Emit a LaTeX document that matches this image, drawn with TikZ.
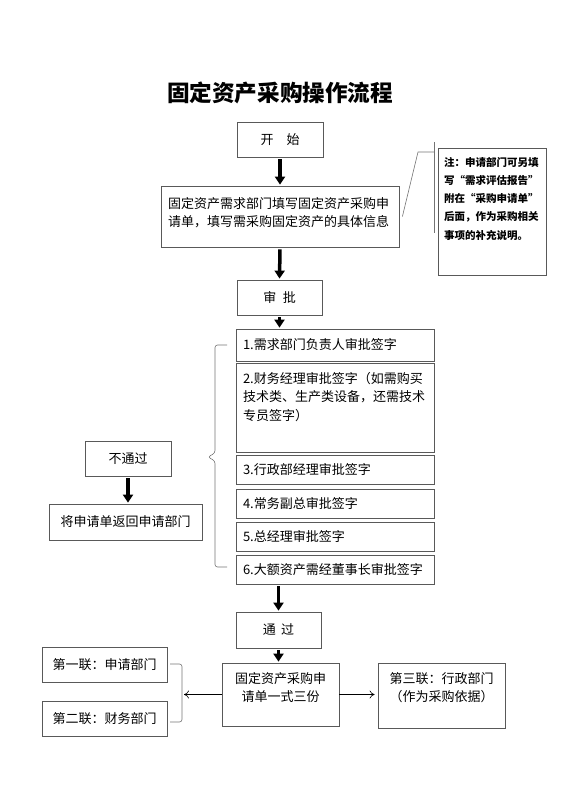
\documentclass[tikz,border=0pt]{standalone}
\usepackage{fontspec}
\setmainfont{Noto Sans CJK SC}
\usetikzlibrary{arrows.meta}

\begin{document}
\begin{tikzpicture}
[x=1pt,y=-1pt,
box/.style={rectangle,draw=black!65,line width=0.8pt,inner sep=0pt,font=\fontsize{13}{18}\selectfont},
stepbox/.style={box,minimum width=198pt,text width=184pt,align=left},
notebox/.style={box,minimum width=108pt,minimum height=127pt,text width=96pt,align=left,
  font=\fontsize{10.5}{18.3}\selectfont\bfseries},
bigarrow/.style={-{Triangle[width=10pt,length=8pt]},line width=3.5pt,shorten <=2pt,shorten >=1pt},
smallarrow/.style={-{To[length=5pt,width=8pt]},line width=0.6pt},
bracket/.style={draw=black!55,line width=0.6pt,rounded corners=2.5pt}]
\useasboundingbox (0,0) rectangle (560,792);

\node at (280,93) (title) {\fontsize{22.6}{28}\selectfont\bfseries 固定资产采购操作流程};

\node at (280,139.5) [box,minimum width=86pt,minimum height=35pt] (start) {开\hspace{1em}始};
\node at (280,216.5) [box,minimum width=238pt,minimum height=61pt,text width=224pt,align=left,text depth=28pt] (fill)
  {固定资产需求部门填写固定资产采购申\\请单，填写需采购固定资产的具体信息};
\node at (492,211.5) [notebox,text depth=100pt] (note)
  {注：申请部门可另填\\写“需求评估报告”\\附在“采购申请单”\\后面，作为采购相关\\事项的补充说明。};
\coordinate (ntop) at (434,142);
\coordinate (nbot) at (434,233);
\coordinate (nknee) at (418,152);
\draw [bracket,rounded corners=0pt] (ntop) to (nbot);
\draw [bracket,rounded corners=0pt] ([xshift=3pt]fill.east) to (nknee) to (nknee -| ntop);

\node at (279.5,297.5) [box,minimum width=85pt,minimum height=35pt] (appr) {审\hspace{0.5em}批};

\node at (335,345)   [stepbox,minimum height=32pt] (s1) {1.需求部门负责人审批签字};
\node at (335,407.5) [stepbox,minimum height=89pt,text depth=60pt,font=\fontsize{13}{18.5}\selectfont] (s2)
  {2.财务经理审批签字（如需购买\\技术类、生产类设备，还需技术\\专员签字）};
\node at (335,469.5) [stepbox,minimum height=29pt] (s3) {3.行政部经理审批签字};
\node at (335,503.5) [stepbox,minimum height=29pt] (s4) {4.常务副总审批签字};
\node at (335,536.5) [stepbox,minimum height=29pt] (s5) {5.总经理审批签字};
\node at (335,569.5) [stepbox,minimum height=29pt] (s6) {6.大额资产需经董事长审批签字};

% left brace round the six steps
\draw [bracket] (227,345) -- (215,345) -- (215,453) -- (208,457) -- (215,461) -- (215,567) -- (227,567);

\node at (128,458.5) [box,minimum width=86pt,minimum height=35pt] (fail) {不通过};
\node at (125.5,522) [box,minimum width=153pt,minimum height=36pt] (back) {将申请单返回申请部门};

\node at (278.5,630) [box,minimum width=85pt,minimum height=36pt] (pass) {通\hspace{0.4em}过};
\node at (280.5,694.5) [box,minimum width=117pt,minimum height=63pt,text width=104pt,align=center,text depth=34pt] (copies)
  {固定资产采购申\\请单一式三份};
\node at (104.5,664.5) [box,minimum width=125pt,minimum height=35pt] (c1) {第一联：申请部门};
\node at (104.5,718.5) [box,minimum width=125pt,minimum height=35pt] (c2) {第二联：财务部门};
\node at (441.5,695.5) [box,minimum width=127pt,minimum height=65pt,text width=114pt,align=center,text depth=36pt] (c3)
  {第三联：行政部门\\（作为采购依据）};

\draw [bracket] (170,664) -- (182,664) -- (182,722) -- (170,722);
\coordinate (cmid) at (184,694.5);

\draw [bigarrow] (start.south) to (fill.north);
\draw [bigarrow] (fill.south) to (appr.north);
\draw [bigarrow] (appr.south) to (s1.north -| appr.south);
\draw [bigarrow] (s6.south -| pass.north) to (pass.north);
\draw [bigarrow] (pass.south) to (pass.south |- copies.north);
\draw [bigarrow] (fail.south) to (fail.south |- back.north);
\draw [smallarrow] (copies.west) to (cmid);
\draw [smallarrow,shorten >=3pt] (copies.east) to (copies.east -| c3.west);
\end{tikzpicture}
\end{document}
